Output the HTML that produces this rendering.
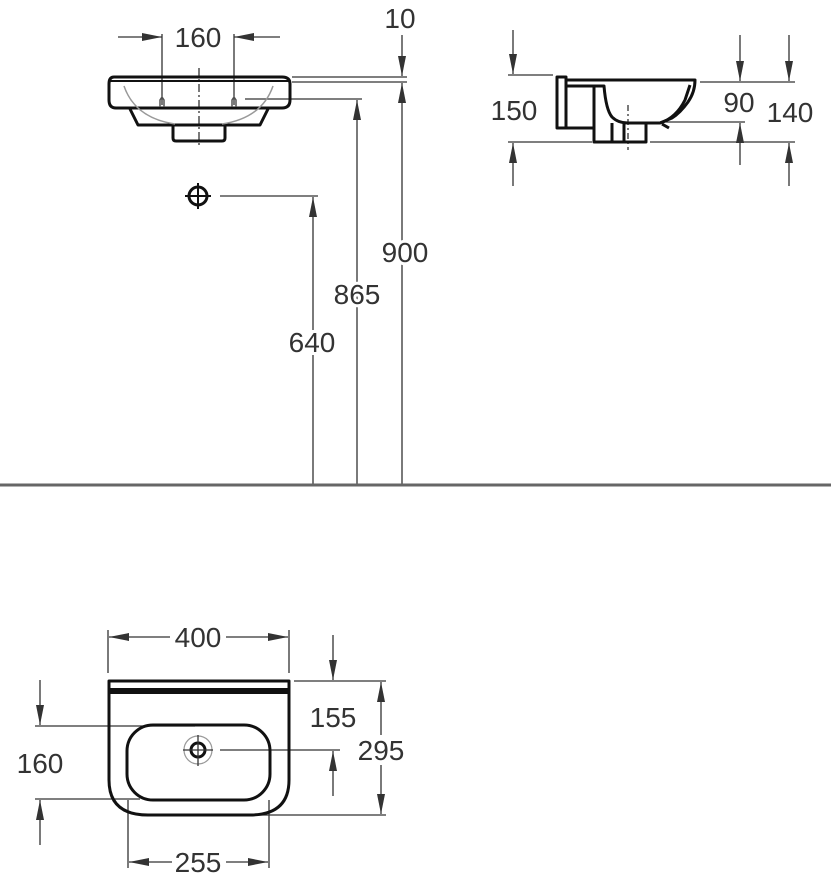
<!DOCTYPE html>
<html><head><style>
html,body{margin:0;padding:0;background:#fff;}
svg{display:block;}
text{font-family:"Liberation Sans",sans-serif;font-size:28px;fill:#333;text-anchor:middle;stroke:#fff;stroke-width:6px;paint-order:stroke;}
</style></head><body>
<svg width="831" height="886" viewBox="0 0 831 886" xmlns="http://www.w3.org/2000/svg">
<defs>
<marker id="a" viewBox="0 0 20 10" refX="20" refY="5" markerWidth="20" markerHeight="10" markerUnits="userSpaceOnUse" orient="auto"><path d="M0,1 L20,5 L0,9 z" fill="#333"/></marker>
</defs>
<g stroke="#333" stroke-width="1.3" fill="none">
<line x1="118" y1="37" x2="162" y2="37" marker-end="url(#a)"/>
<line x1="280" y1="37" x2="234" y2="37" marker-end="url(#a)"/>
<line x1="162" y1="34" x2="162" y2="105"/>
<line x1="234" y1="34" x2="234" y2="105"/>
<line x1="292" y1="77" x2="407" y2="77"/>
<line x1="292" y1="82" x2="407" y2="82"/>
<line x1="245" y1="99" x2="362" y2="99"/>
<line x1="402" y1="35" x2="402" y2="76" marker-end="url(#a)"/>
<line x1="402" y1="484" x2="402" y2="83" marker-end="url(#a)"/>
<line x1="357" y1="484" x2="357" y2="100" marker-end="url(#a)"/>
<line x1="313" y1="484" x2="313" y2="197" marker-end="url(#a)"/>
<line x1="220" y1="196" x2="318" y2="196"/>
<line x1="199" y1="68" x2="199" y2="146" stroke-dasharray="8 3 2 3"/>
<line x1="508" y1="75" x2="553" y2="75"/>
<line x1="508" y1="142" x2="592" y2="142"/>
<line x1="650" y1="142" x2="795" y2="142"/>
<line x1="700" y1="82" x2="795" y2="82"/>
<line x1="660" y1="122" x2="745" y2="122"/>
<line x1="513" y1="30" x2="513" y2="74" marker-end="url(#a)"/>
<line x1="513" y1="186" x2="513" y2="143" marker-end="url(#a)"/>
<line x1="740" y1="35" x2="740" y2="81" marker-end="url(#a)"/>
<line x1="740" y1="165" x2="740" y2="123" marker-end="url(#a)"/>
<line x1="789" y1="35" x2="789" y2="81" marker-end="url(#a)"/>
<line x1="789" y1="186" x2="789" y2="143" marker-end="url(#a)"/>
<line x1="628" y1="105" x2="628" y2="150" stroke-dasharray="6 3 2 3"/>
<line x1="108" y1="630" x2="108" y2="673"/>
<line x1="289" y1="630" x2="289" y2="673"/>
<line x1="170" y1="637" x2="109" y2="637" marker-end="url(#a)"/>
<line x1="226" y1="637" x2="288" y2="637" marker-end="url(#a)"/>
<line x1="128" y1="800" x2="128" y2="868"/>
<line x1="269" y1="800" x2="269" y2="868"/>
<line x1="172" y1="862" x2="129" y2="862" marker-end="url(#a)"/>
<line x1="226" y1="862" x2="268" y2="862" marker-end="url(#a)"/>
<line x1="294" y1="681" x2="386" y2="681"/>
<line x1="35" y1="726" x2="195" y2="726"/>
<line x1="220" y1="750" x2="340" y2="750"/>
<line x1="35" y1="799" x2="140" y2="799"/>
<line x1="250" y1="815" x2="386" y2="815"/>
<line x1="333" y1="635" x2="333" y2="680" marker-end="url(#a)"/>
<line x1="333" y1="796" x2="333" y2="751" marker-end="url(#a)"/>
<line x1="381" y1="735" x2="381" y2="682" marker-end="url(#a)"/>
<line x1="381" y1="765" x2="381" y2="814" marker-end="url(#a)"/>
<line x1="40" y1="680" x2="40" y2="725" marker-end="url(#a)"/>
<line x1="40" y1="845" x2="40" y2="800" marker-end="url(#a)"/>
</g>
<line x1="0" y1="485" x2="831" y2="485" stroke="#666" stroke-width="3"/>
<g stroke="#111" stroke-width="3" fill="none" stroke-linejoin="round">
<path d="M114,77 H282 Q290,77 290,84 V100 Q290,108 282,108 H116 Q109,108 109,100 V84 Q109,77 114,77 Z"/>
<path d="M130,109 L138,125 H260 L268,109"/>
<path d="M173,125 V138 Q173,141 176,141 H222 Q225,141 225,138 V125"/>
<line x1="109" y1="81" x2="290" y2="81" stroke-width="2"/>
</g>
<path d="M124,86 Q135,118 175,124 M273,86 Q262,118 222,124" stroke="#999" stroke-width="1.5" fill="none"/>
<path d="M160,107 V100 L162,97 L164,100 V107 M232,107 V100 L234,97 L236,100 V107" stroke="#555" stroke-width="1.5" fill="none"/>
<circle cx="198" cy="196" r="9" stroke="#111" stroke-width="3" fill="none"/>
<line x1="185" y1="196" x2="211" y2="196" stroke="#111" stroke-width="2"/>
<line x1="198" y1="183" x2="198" y2="209" stroke="#111" stroke-width="2"/>
<g stroke="#111" stroke-width="3" fill="none" stroke-linejoin="round">
<path d="M557,77 H566 V128 H557 Z"/>
<path d="M566,80 H695 Q695,92 688,102 Q680,113 672,118 L660,123"/>
<path d="M566,86 H604 Q606,110 612,117 Q618,123 628,123 H660 Q676,118 685,100 L690,85"/>
<path d="M594,86 V142 H646 V123"/>
<path d="M566,128 H594"/>
<path d="M612,123 V142 M624,123 V142"/>
<path d="M662,124 L669,128"/>
</g>
<g stroke="#111" stroke-width="3" fill="none" stroke-linejoin="round">
<path d="M109,681 H289 V780 Q289,815 250,815 H148 Q109,815 109,780 Z"/>
<rect x="127" y="725" width="143" height="75" rx="26"/>
<circle cx="198" cy="750" r="7"/>
</g>
<rect x="110" y="688" width="178" height="6" fill="#111"/>
<circle cx="198" cy="750" r="14" stroke="#999" stroke-width="1.2" fill="none"/>
<line x1="183" y1="750" x2="213" y2="750" stroke="#333" stroke-width="1.3"/>
<line x1="198" y1="735" x2="198" y2="766" stroke="#333" stroke-width="1.3"/>
<text x="198" y="47">160</text>
<text x="400" y="28">10</text>
<text x="405" y="262">900</text>
<text x="357" y="304">865</text>
<text x="312" y="352">640</text>
<text x="514" y="120">150</text>
<text x="739" y="112">90</text>
<text x="790" y="122">140</text>
<text x="198" y="647">400</text>
<text x="198" y="872">255</text>
<text x="333" y="727">155</text>
<text x="381" y="760">295</text>
<text x="40" y="773">160</text>
</svg>
</body></html>
